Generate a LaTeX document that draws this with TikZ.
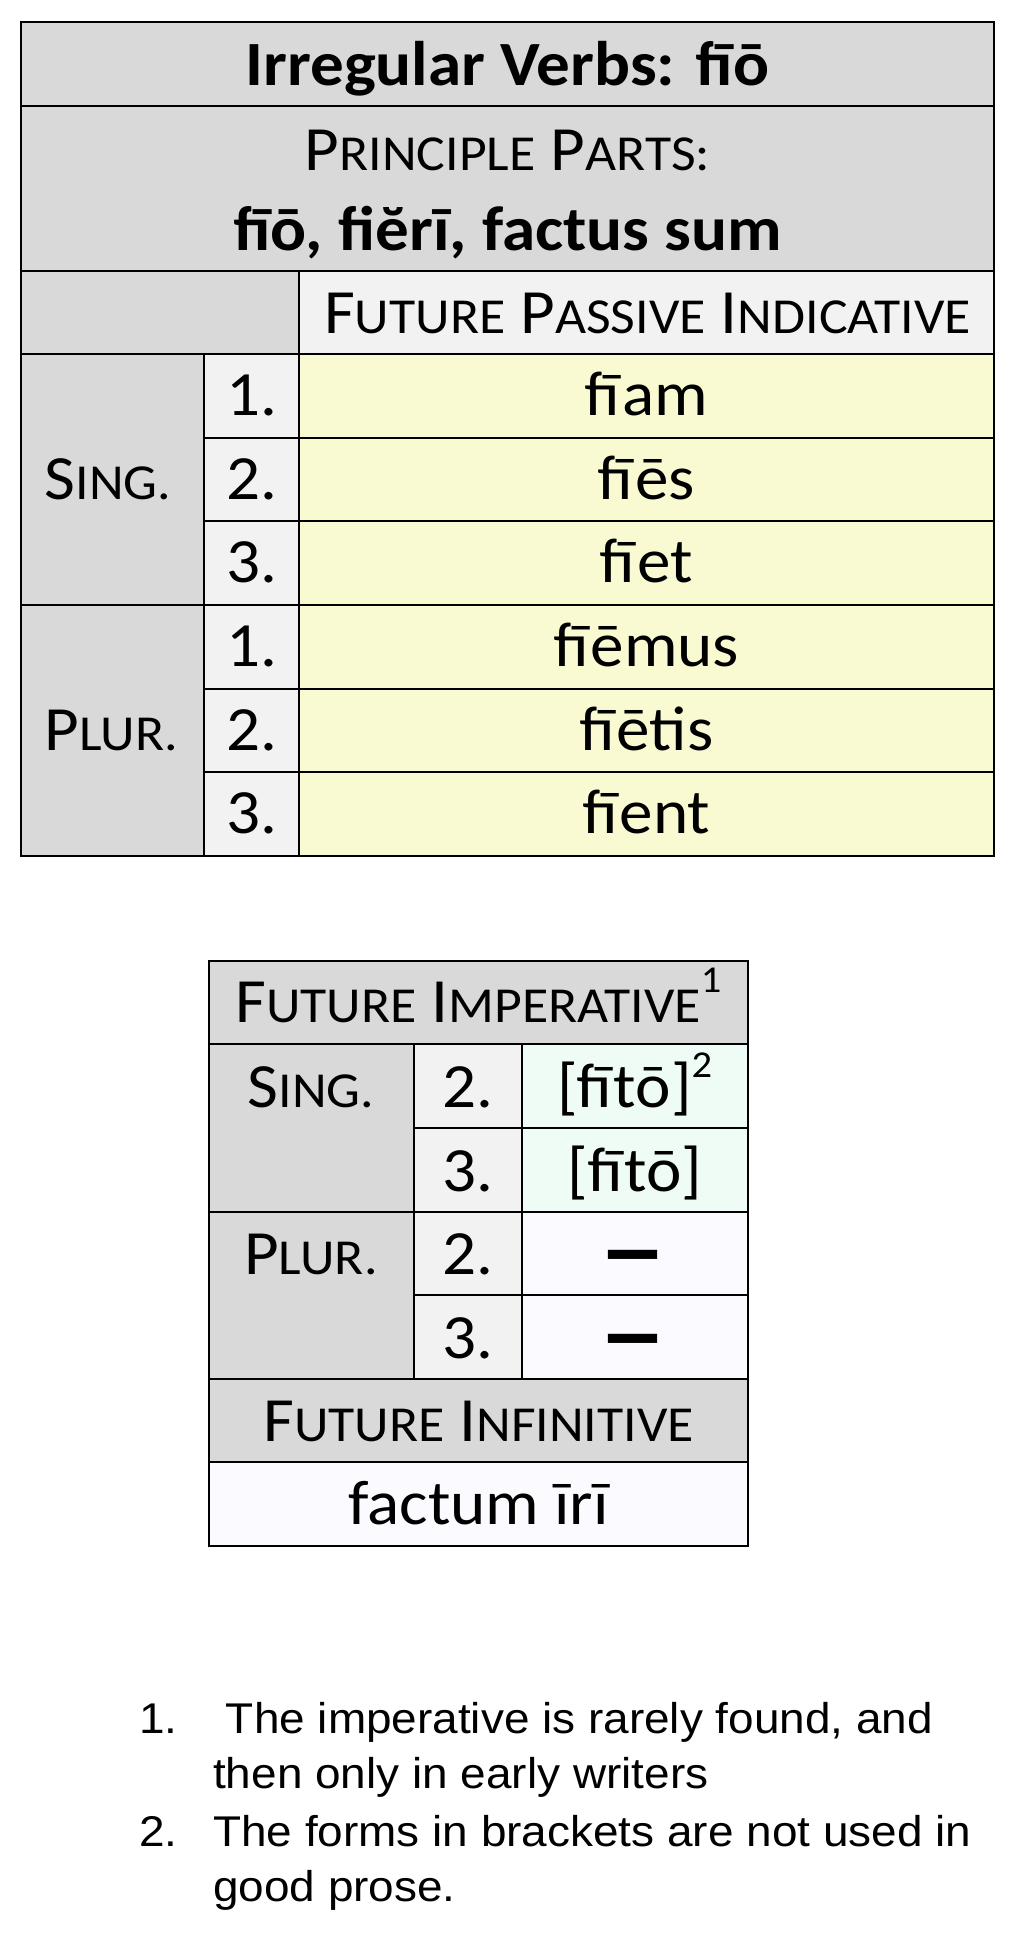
\documentclass[tikz,border=0pt]{standalone}
\usepackage{fontspec}
\usepackage{graphicx}
\setmainfont{Carlito}[FakeStretch=1.065]
\newfontfamily\notefont{Liberation Sans}[FakeStretch=1.068]
\definecolor{hdrgray}{HTML}{D9D9D9}
\definecolor{numgray}{HTML}{F2F2F2}
\definecolor{paleyel}{HTML}{FAFAD2}
\definecolor{palemint}{HTML}{EEFCF5}
\definecolor{palewhite}{HTML}{FBFBFF}
\newcommand\smc[1]{\scalebox{0.8}{#1}}
\newcommand\supnum[1]{\raisebox{30pt}{\fontsize{38}{38}\selectfont #1}}
\tikzset{
  grid/.style={line width=1.8pt, black},
  titletxt/.style={anchor=base, inner sep=0pt, font=\fontsize{63}{63}\selectfont\bfseries},
  celltxt/.style={anchor=base, inner sep=0pt, font=\fontsize{63}{63}\selectfont},
  leftcell/.style={anchor=base west, inner sep=0pt, font=\fontsize{63}{63}\selectfont},
  dashtxt/.style={anchor=center, inner sep=0pt, font=\fontsize{55}{55}\selectfont\bfseries},
  notetxt/.style={anchor=base west, inner sep=0pt, font=\notefont\fontsize{43}{43}\selectfont},
}
\begin{document}
\begin{tikzpicture}[x=1pt,y=-1pt]
\useasboundingbox[fill=white] (0,0) rectangle (1015,1939);

% ---------- Table 1 ----------
\fill[hdrgray] (20.7,22) rectangle (994.3,271);
\fill[hdrgray] (20.7,271) rectangle (299.3,354);
\fill[numgray] (299.3,271) rectangle (994.3,354);
\fill[hdrgray] (20.7,354) rectangle (204.3,856);
\fill[numgray] (204.3,354) rectangle (299.3,856);
\fill[paleyel] (299.3,354) rectangle (994.3,856);

\foreach \yy in {106,271,354,605}
  \draw[grid] (20.7,\yy) -- (994.3,\yy);
\foreach \yy in {437.7,521.3,688.7,772.3}
  \draw[grid] (204.3,\yy) -- (994.3,\yy);
\draw[grid] (204.3,354) -- (204.3,856);
\draw[grid] (299.3,271) -- (299.3,856);
\draw[grid] (20.7,22) rectangle (994.3,856);

\node[titletxt] (title) at (507.5,85) {Irregular Verbs: fīō};
\node[celltxt] (pp1) at (507.5,170) {P\smc{RINCIPLE} P\smc{ARTS:}};
\node[titletxt] (pp2) at (507.5,250) {fīō, fiĕrī, factus sum};
\node[celltxt] (fpi) at (647.5,333.3) {F\smc{UTURE} P\smc{ASSIVE} I\smc{NDICATIVE}};
\node[leftcell] (sing1) at (44.5,499.5) {S\smc{ING.}};
\node[leftcell] (plur1) at (44.5,750.5) {P\smc{LUR.}};

\node[celltxt] (n11) at (251.8,415.5) {1.};
\node[celltxt] (n12) at (251.8,499.2) {2.};
\node[celltxt] (n13) at (251.8,582.8) {3.};
\node[celltxt] (n14) at (251.8,666.5) {1.};
\node[celltxt] (n15) at (251.8,750.2) {2.};
\node[celltxt] (n16) at (251.8,833.8) {3.};

\node[celltxt] (v11) at (646.8,415.5) {fīam};
\node[celltxt] (v12) at (646.8,499.2) {fīēs};
\node[celltxt] (v13) at (646.8,582.8) {fīet};
\node[celltxt] (v14) at (646.8,666.5) {fīēmus};
\node[celltxt] (v15) at (646.8,750.2) {fīētis};
\node[celltxt] (v16) at (646.8,833.8) {fīent};

% ---------- Table 2 ----------
\fill[hdrgray] (209.3,961) rectangle (747.7,1044.3);
\fill[hdrgray] (209.3,1044.3) rectangle (414.3,1379);
\fill[numgray] (414.3,1044.3) rectangle (521.7,1379);
\fill[palemint] (521.7,1044.3) rectangle (747.7,1211.7);
\fill[palewhite] (521.7,1211.7) rectangle (747.7,1379);
\fill[hdrgray] (209.3,1379) rectangle (747.7,1462);
\fill[palewhite] (209.3,1462) rectangle (747.7,1546);

\foreach \yy in {1044.3,1211.7,1379,1462}
  \draw[grid] (209.3,\yy) -- (747.7,\yy);
\foreach \yy in {1127.7,1295}
  \draw[grid] (414.3,\yy) -- (747.7,\yy);
\draw[grid] (414.3,1044.3) -- (414.3,1379);
\draw[grid] (521.7,1044.3) -- (521.7,1379);
\draw[grid] (209.3,961) rectangle (747.7,1546);

\node[celltxt] (fimp) at (478.5,1022.7) {F\smc{UTURE} I\smc{MPERATIVE}\supnum{1}};
\node[celltxt] (sing2) at (311,1107) {S\smc{ING.}};
\node[celltxt] (plur2) at (311,1274.5) {P\smc{LUR.}};
\node[celltxt] (n21) at (468,1107.5) {2.};
\node[celltxt] (n22) at (468,1191) {3.};
\node[celltxt] (n23) at (468,1274.5) {2.};
\node[celltxt] (n24) at (468,1358) {3.};
\node[celltxt] (v21) at (634.7,1107.5) {[fītō]\supnum{2}};
\node[celltxt] (v22) at (634.7,1191) {[fītō]};
\node[dashtxt] (v23) at (633,1267.5) {\scalebox{1.15}[1.9]{—}};
\node[dashtxt] (v24) at (633,1351.5) {\scalebox{1.15}[1.9]{—}};
\node[celltxt] (finf) at (478.5,1441) {F\smc{UTURE} I\smc{NFINITIVE}};
\node[celltxt] (fval) at (478.5,1524.5) {factum īrī};

% ---------- Notes ----------
\node[notetxt] (nn1) at (139,1733) {1.};
\node[notetxt] (nt1) at (213,1733) {\ The imperative is rarely found, and};
\node[notetxt] (nt1b) at (213,1788) {then only in early writers};
\node[notetxt] (nn2) at (139,1846.7) {2.};
\node[notetxt] (nt2) at (213,1846.7) {The forms in brackets are not used in};
\node[notetxt] (nt2b) at (213,1901.7) {good prose.};
\end{tikzpicture}
\end{document}
